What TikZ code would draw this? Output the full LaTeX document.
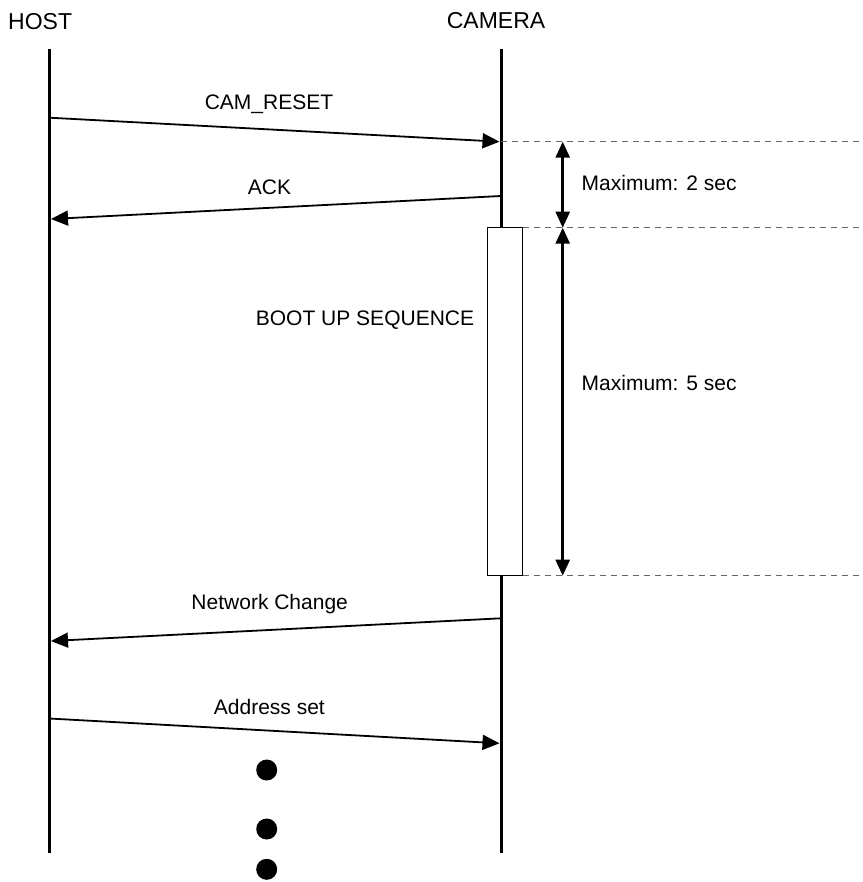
\documentclass[tikz,border=0pt]{standalone}
\usepackage{fontspec}
\setmainfont{Liberation Sans}
\usetikzlibrary{arrows.meta}
\tikzset{
  lifeline/.style={line width=3pt},
  msg/.style={line width=1.8pt, -{Triangle[length=17pt,width=15pt]}},
  guide/.style={line width=1pt, draw=black!60, dash pattern=on 6pt off 5pt},
  span/.style={line width=2.6pt, {Triangle[length=16pt,width=14pt]}-{Triangle[length=16pt,width=14pt]}},
  lbl/.style={inner sep=0pt, font=\fontsize{21}{25}\selectfont},
  ttl/.style={inner sep=0pt, font=\fontsize{23}{27}\selectfont},
  bootbox/.style={draw, line width=0.9pt, fill=white, minimum width=35pt, minimum height=348pt, inner sep=0pt},
  dotmark/.style={circle, fill=black, minimum size=21pt, inner sep=0pt}
}
\begin{document}
\begin{tikzpicture}[x=1pt,y=-1pt]
\useasboundingbox (0,0) rectangle (862,882);
% titles
\node[ttl, anchor=base west] (host) at (8,29.3) {HOST};
\node[ttl, anchor=base] (camera) at (496,29) {CAMERA};
% lifeline coordinates
\coordinate (hT) at (49.3,49.3);
\coordinate (hB) at (49.3,853);
\coordinate (cT) at (501,49.3);
\coordinate (cB) at (501,853);
% boot box
\node[bootbox] (box) at (505.2,401.7) {};
\coordinate (cBoxT) at (501,227.7);
\coordinate (cBoxB) at (501,575.7);
\draw[lifeline] (hT) -- (hB);
\draw[lifeline] (cT) -- (cBoxT);
\draw[lifeline] (cBoxB) -- (cB);
% message coordinates
\coordinate (m1s) at (49.3,117.7);
\coordinate (m1e) at (499.5,141.7);
\coordinate (m2s) at (501,196);
\coordinate (m2e) at (51,219);
\coordinate (m3s) at (501,618.3);
\coordinate (m3e) at (51,641);
\coordinate (m4s) at (49.3,718.5);
\coordinate (m4e) at (499.5,743.3);
\draw[msg] (m1s) -- (m1e);
\draw[msg] (m2s) -- (m2e);
\draw[msg] (m3s) -- (m3e);
\draw[msg] (m4s) -- (m4e);
% message labels
\node[lbl, anchor=base] (l1) at (269,110) {CAM\_RESET};
\node[lbl, anchor=base] (l2) at (269.5,195) {ACK};
\node[lbl, anchor=base] (l3) at (269.7,609) {Network Change};
\node[lbl, anchor=base] (l4) at (269.4,714) {Address set};
\node[lbl, anchor=base] (lboot) at (365,325) {BOOT UP SEQUENCE};
% timing guides
\coordinate (g1s) at (501,141.7);
\coordinate (g1e) at (862,141.7);
\coordinate (g2s) at (522.7,227.7);
\coordinate (g2e) at (862,227.7);
\coordinate (g3s) at (522.7,575.7);
\coordinate (g3e) at (862,575.7);
\draw[guide] (g1s) -- (g1e);
\draw[guide] (g2s) -- (g2e);
\draw[guide] (g3s) -- (g3e);
\coordinate (s1a) at (562.7,141.7);
\coordinate (s1b) at (562.7,227.7);
\coordinate (s2a) at (562.7,227.7);
\coordinate (s2b) at (562.7,575.7);
\draw[span] (s1a) -- (s1b);
\draw[span] (s2a) -- (s2b);
\node[lbl, anchor=base west] (t1) at (581.5,190.7) {Maximum: 2 sec};
\node[lbl, anchor=base west] (t2) at (581.5,390) {Maximum: 5 sec};
% continuation dots
\node[dotmark] (d1) at (266.7,770) {};
\node[dotmark] (d2) at (266.7,829) {};
\node[dotmark] (d3) at (266.7,869.3) {};
\end{tikzpicture}
\end{document}
